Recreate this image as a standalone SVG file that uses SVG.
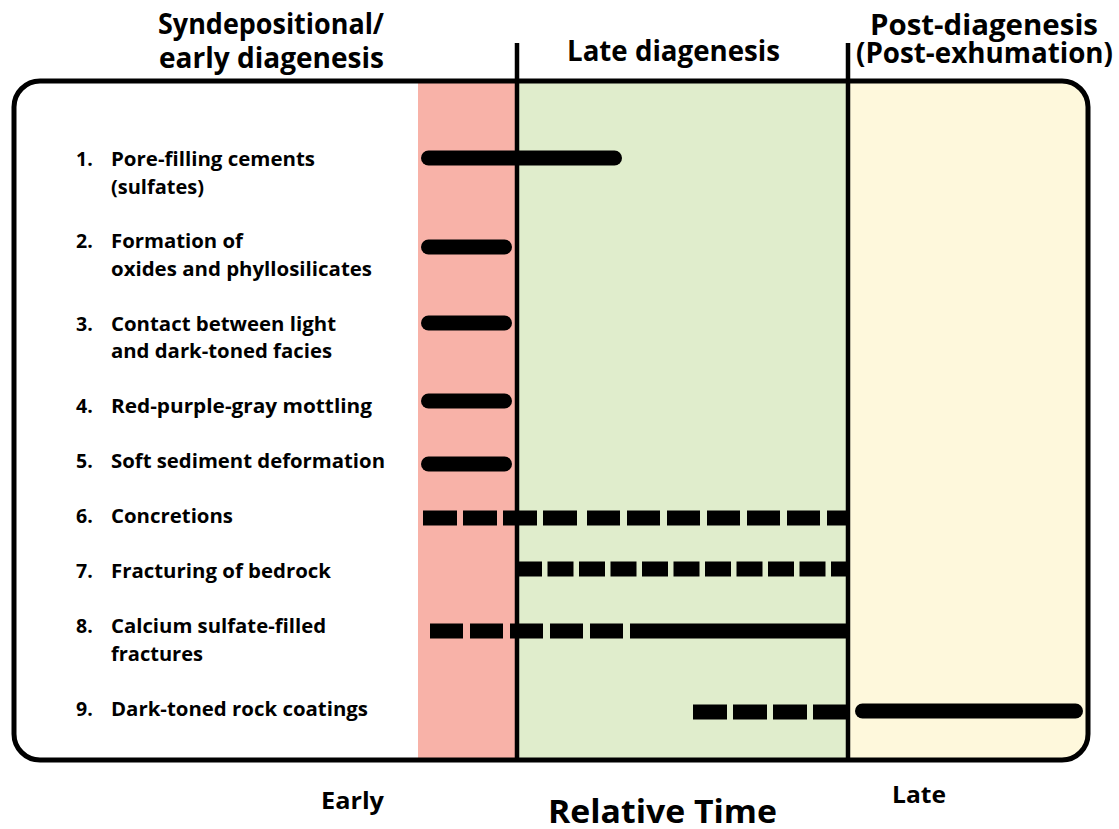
<svg xmlns="http://www.w3.org/2000/svg" width="1119" height="829" viewBox="0 0 1119 829">
  <style>
    text { font-family: "Open Sans", "Liberation Sans", sans-serif; font-weight: 700; fill: #000; }
    .hdr { font-size: 29px; }
    .item { font-size: 19.5px; }
    .axis { font-size: 23.5px; }
    .title { font-size: 32px; }
    .solid { stroke: #000; stroke-width: 15; stroke-linecap: round; fill: none; }
    .flat { stroke: #000; stroke-width: 15; stroke-linecap: butt; fill: none; }
    .divider { stroke: #000; stroke-width: 4.5; fill: none; }
  </style>
  <defs>
    <clipPath id="frameClip">
      <rect x="14" y="81" width="1074" height="679" rx="26" ry="26"/>
    </clipPath>
  </defs>

  <rect x="0" y="0" width="1119" height="829" fill="#ffffff"/>

  <!-- stage bands -->
  <g id="bands" clip-path="url(#frameClip)">
    <rect x="418" y="78" width="99" height="690" fill="#f8b2a8"/>
    <rect x="517" y="78" width="331" height="690" fill="#e0edcc"/>
    <rect x="848" y="78" width="250" height="690" fill="#fef8dc"/>
  </g>

  <!-- frame -->
  <rect id="frame" x="14" y="81" width="1074" height="679" rx="26" ry="26" fill="none" stroke="#000" stroke-width="5"/>

  <!-- stage dividers -->
  <g id="dividers">
    <line class="divider" x1="517" y1="43" x2="517" y2="760"/>
    <line class="divider" x1="848" y1="43" x2="848" y2="760"/>
  </g>

  <!-- stage headings -->
  <g id="stage-early">
    <text class="hdr" x="158" y="34" textLength="226" lengthAdjust="spacingAndGlyphs">Syndepositional/</text>
    <text class="hdr" x="159" y="68" textLength="225" lengthAdjust="spacingAndGlyphs">early diagenesis</text>
  </g>
  <g id="stage-late">
    <text class="hdr" x="567" y="61" textLength="213" lengthAdjust="spacingAndGlyphs">Late diagenesis</text>
  </g>
  <g id="stage-post">
    <text class="hdr" x="870" y="35" textLength="228" lengthAdjust="spacingAndGlyphs">Post-diagenesis</text>
    <text class="hdr" x="856" y="63" textLength="257" lengthAdjust="spacingAndGlyphs">(Post-exhumation)</text>
  </g>

  <!-- event rows -->
  <g id="row1">
    <text class="item" x="76" y="166">1.</text>
    <text class="item" x="111" y="166" textLength="204" lengthAdjust="spacingAndGlyphs">Pore-filling cements</text>
    <text class="item" x="111" y="194" textLength="93" lengthAdjust="spacingAndGlyphs">(sulfates)</text>
    <line class="solid" x1="428.5" y1="158" x2="614.5" y2="158"/>
  </g>
  <g id="row2">
    <text class="item" x="76" y="248">2.</text>
    <text class="item" x="111" y="248" textLength="132" lengthAdjust="spacingAndGlyphs">Formation of</text>
    <text class="item" x="111" y="276" textLength="261" lengthAdjust="spacingAndGlyphs">oxides and phyllosilicates</text>
    <line class="solid" x1="428.5" y1="247" x2="504.5" y2="247"/>
  </g>
  <g id="row3">
    <text class="item" x="76" y="331">3.</text>
    <text class="item" x="111" y="331" textLength="225" lengthAdjust="spacingAndGlyphs">Contact between light</text>
    <text class="item" x="111" y="358" textLength="221" lengthAdjust="spacingAndGlyphs">and dark-toned facies</text>
    <line class="solid" x1="428.5" y1="323" x2="504.5" y2="323"/>
  </g>
  <g id="row4">
    <text class="item" x="76" y="413">4.</text>
    <text class="item" x="111" y="413" textLength="261" lengthAdjust="spacingAndGlyphs">Red-purple-gray mottling</text>
    <line class="solid" x1="428.5" y1="401" x2="504.5" y2="401"/>
  </g>
  <g id="row5">
    <text class="item" x="76" y="468">5.</text>
    <text class="item" x="111" y="468" textLength="274" lengthAdjust="spacingAndGlyphs">Soft sediment deformation</text>
    <line class="solid" x1="428.5" y1="464" x2="504.5" y2="464"/>
  </g>
  <g id="row6">
    <text class="item" x="76" y="523">6.</text>
    <text class="item" x="111" y="523" textLength="122" lengthAdjust="spacingAndGlyphs">Concretions</text>
    <line class="flat" x1="423" y1="518" x2="577" y2="518" stroke-dasharray="34 6"/>
    <line class="flat" x1="587" y1="518" x2="847" y2="518" stroke-dasharray="33 7"/>
  </g>
  <g id="row7">
    <text class="item" x="76" y="578">7.</text>
    <text class="item" x="111" y="578" textLength="220" lengthAdjust="spacingAndGlyphs">Fracturing of bedrock</text>
    <line class="flat" x1="516" y1="569" x2="847" y2="569" stroke-dasharray="26 5.5"/>
  </g>
  <g id="row8">
    <text class="item" x="76" y="633">8.</text>
    <text class="item" x="111" y="633" textLength="215" lengthAdjust="spacingAndGlyphs">Calcium sulfate-filled</text>
    <text class="item" x="111" y="661" textLength="92" lengthAdjust="spacingAndGlyphs">fractures</text>
    <line class="flat" x1="430" y1="631" x2="623" y2="631" stroke-dasharray="33 7"/>
    <line class="flat" x1="630" y1="631" x2="846" y2="631"/>
  </g>
  <g id="row9">
    <text class="item" x="76" y="716">9.</text>
    <text class="item" x="111" y="716" textLength="257" lengthAdjust="spacingAndGlyphs">Dark-toned rock coatings</text>
    <line class="flat" x1="693" y1="712" x2="847" y2="712" stroke-dasharray="34 6"/>
    <line class="solid" x1="862.5" y1="711" x2="1075.5" y2="711"/>
  </g>

  <!-- time axis -->
  <g id="axis">
    <text class="axis" x="321" y="809" textLength="63" lengthAdjust="spacingAndGlyphs">Early</text>
    <text class="title" x="548" y="823" textLength="229" lengthAdjust="spacingAndGlyphs">Relative Time</text>
    <text class="axis" x="892" y="803" textLength="54" lengthAdjust="spacingAndGlyphs">Late</text>
  </g>
</svg>
